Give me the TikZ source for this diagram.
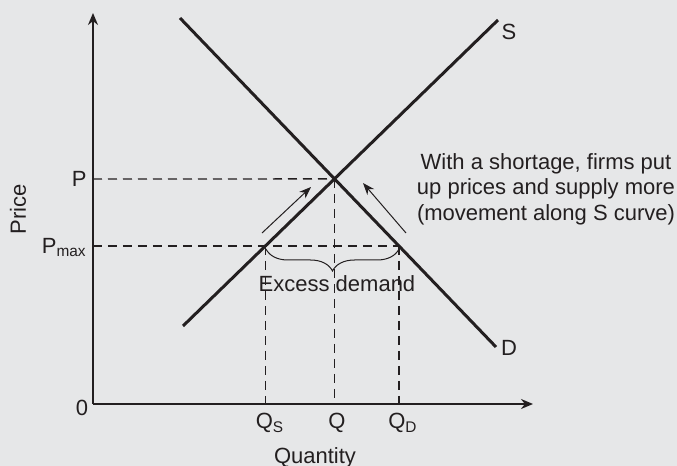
\documentclass[tikz,border=0pt]{standalone}
\usepackage{fontspec}
\setmainfont{Liberation Sans}
\usepackage{xcolor}
\usetikzlibrary{arrows.meta,decorations.pathreplacing,positioning}

\definecolor{bgcol}{HTML}{E6E7E8}
\definecolor{ink}{HTML}{231F20}

\begin{document}
\begin{tikzpicture}[
    x=0.5pt, y=-0.5pt,
    font=\fontsize{11}{12.75}\selectfont,
    every node/.style={text=ink, inner sep=0pt},
    axis/.style={draw=ink, line width=0.8pt, -{Stealth[length=6pt,width=5pt]}},
    curve/.style={draw=ink, line width=1.5pt},
    guide/.style={draw=ink, line width=0.65pt, dash pattern=on 4.5pt off 3pt},
    move/.style={draw=ink, line width=0.5pt, -{Stealth[length=6pt,width=4.5pt]}}
]

\fill[bgcol] (0,0) rectangle (677,466);
\useasboundingbox (0,0) rectangle (677,466);

% axes
\coordinate (o) at (93,404);
\coordinate (ytop) at (93,13);
\coordinate (xend) at (533,404);
\draw[axis] (o) -- (ytop);
\draw[axis] (o) -- (xend);

% supply and demand
\coordinate (s0) at (183,326);
\coordinate (s1) at (498,20);
\coordinate (d0) at (180,18);
\coordinate (d1) at (496,347);
\draw[curve] (s0) -- (s1);
\draw[curve] (d0) -- (d1);
\coordinate (eq) at (intersection of s0--s1 and d0--d1);

\coordinate (pax) at (93,179);
\coordinate (pmaxax) at (93,246);
\coordinate (ps) at (265.4,246);
\coordinate (pd) at (399,246);
\coordinate (qsax) at (265.4,404);
\coordinate (qax) at (eq |- o);
\coordinate (qdax) at (399,404);

% guide lines
\draw[guide] (pax) -- (eq);
\draw[guide] (eq) -- (qax);
\draw[guide] (pmaxax) -- (pd);
\draw[guide] (ps) -- (qsax);
\draw[guide] (pd) -- (qdax);

% movement arrows
\coordinate (ma0) at (262,233);
\coordinate (ma1) at (311,187);
\coordinate (mb0) at (406,233);
\coordinate (mb1) at (363,183);
\draw[move] (ma0) -- (ma1);
\draw[move] (mb0) -- (mb1);

\draw[draw=ink, line width=0.5pt, decorate, decoration={brace, mirror, amplitude=11pt}]
    (266,249) -- (399,249);
\node (excess) at (337,284) {Excess demand};

% labels
\node[anchor=east] (plab) at (87,179) {P};
\node[anchor=base east] (pmaxlab) at (87,253.5) {P\textsubscript{max}};
\node (zero) at (82,408) {0};
\node[anchor=base] (qslab) at (270,429) {Q\textsubscript{S}};
\node[anchor=base] (qlab) at (337,429) {Q};
\node[anchor=base] (qdlab) at (403,429) {Q\textsubscript{D}};
\node[anchor=base] (quantity) at (315,464) {Quantity};
\node[rotate=90] (price) at (18,209) {Price};
\node (slab) at (509,32) {S};
\node (dlab) at (509,348) {D};
\node[align=center] (note) at (546,189)
    {With a shortage, firms put\\up prices and supply more\\(movement along S curve)};

\end{tikzpicture}
\end{document}
